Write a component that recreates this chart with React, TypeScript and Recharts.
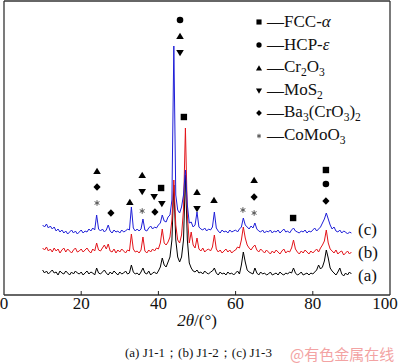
import React from 'react';
import { ComposedChart, Line, Scatter, XAxis, YAxis } from 'recharts';

// 2θ measurement grid (degrees), 0.5° step from 10° to 90°
const twoTheta: number[] = Array.from({ length: 161 }, (_, i) => 10 + i * 0.5);

// (a) J1-1 — black
const intensityA = [
  25, 22, 24, 21, 23, 25, 22, 23, 20, 24,
  22, 21, 24, 22, 20, 23, 21, 24, 22, 21,
  23, 20, 22, 24, 21, 23, 22, 20, 27, 22,
  21, 23, 25, 22, 20, 23, 21, 24, 22, 20,
  23, 21, 22, 24, 21, 22, 30, 23, 21, 22,
  20, 23, 27, 22, 21, 24, 20, 22, 23, 21,
  24, 28, 37, 30, 28, 33, 38, 55, 110, 55,
  38, 33, 38, 55, 120, 55, 32, 27, 24, 23,
  25, 22, 23, 21, 24, 22, 21, 23, 24, 27,
  22, 20, 23, 21, 22, 20, 23, 21, 22, 20,
  22, 24, 21, 30, 43, 33, 25, 23, 22, 21,
  27, 22, 20, 23, 21, 22, 20, 21, 23, 20,
  21, 22, 20, 23, 21, 20, 22, 21, 23, 22,
  27, 22, 20, 21, 23, 20, 21, 22, 20, 22,
  21, 23, 25, 30, 26, 28, 34, 45, 37, 27,
  24, 22, 20, 23, 27, 21, 19, 22, 20, 23,
  21,
];

// (b) J1-2 — red
const intensityB = [
  47, 45, 48, 44, 46, 43, 47, 44, 46, 42,
  45, 47, 43, 46, 44, 42, 45, 47, 43, 44,
  46, 43, 45, 47, 44, 42, 46, 44, 52, 45,
  44, 47, 50, 46, 51, 44, 43, 46, 42, 45,
  43, 46, 44, 42, 45, 44, 61, 46, 43, 44,
  42, 45, 58, 44, 42, 45, 43, 46, 44, 47,
  46, 52, 66, 52, 50, 53, 58, 75, 115, 70,
  55, 52, 60, 85, 167, 80, 52, 63, 50, 47,
  57, 46, 44, 47, 43, 45, 46, 44, 48, 60,
  46, 43, 45, 42, 44, 46, 43, 45, 42, 44,
  45, 48, 47, 55, 68, 57, 50, 47, 45, 48,
  50, 45, 43, 46, 44, 42, 45, 43, 41, 44,
  42, 45, 43, 41, 44, 46, 42, 44, 43, 47,
  55, 46, 43, 41, 44, 42, 45, 43, 41, 44,
  42, 44, 46, 43, 47, 50, 54, 65, 52, 46,
  44, 42, 45, 41, 43, 44, 40, 42, 44, 41,
  43,
];

// (c) J1-3 — blue
const intensityC = [
  70, 68, 71, 67, 69, 66, 68, 64, 66, 63,
  65, 62, 64, 61, 63, 65, 62, 64, 61, 63,
  65, 62, 64, 63, 66, 64, 67, 65, 80, 66,
  64, 66, 63, 65, 70, 64, 62, 65, 63, 64,
  62, 65, 63, 64, 66, 65, 88, 67, 64, 66,
  64, 66, 76, 65, 64, 67, 69, 66, 68, 67,
  70, 72, 80, 74, 73, 78, 80, 95, 249, 100,
  85, 82, 88, 100, 125, 90, 72, 73, 68, 70,
  83, 68, 66, 65, 67, 64, 66, 65, 68, 83,
  67, 64, 62, 65, 63, 64, 62, 65, 63, 64,
  65, 63, 66, 68, 77, 70, 68, 66, 69, 67,
  72, 66, 64, 63, 65, 62, 64, 63, 65, 62,
  64, 63, 65, 62, 64, 66, 63, 64, 62, 65,
  67, 64, 63, 62, 64, 63, 65, 62, 64, 63,
  65, 67, 64, 66, 68, 72, 76, 82, 76, 70,
  66, 68, 64, 63, 65, 62, 64, 63, 61, 63,
  62,
];

const xTicks = [0, 20, 40, 60, 80, 100];

// phase marker positions (2θ, marker height in intensity units)
const fccMarks = [
  { x: 46.6, y: 178 }, { x: 40.7, y: 107 }, { x: 74.9, y: 77 }, { x: 83.4, y: 125 },
];
const hcpMarks = [{ x: 45.6, y: 275 }, { x: 83.4, y: 111 }];
const cr2o3Marks = [
  { x: 45.6, y: 259 }, { x: 24.1, y: 124 }, { x: 32.6, y: 93 }, { x: 35.8, y: 120 },
  { x: 50.0, y: 103 }, { x: 54.4, y: 95 }, { x: 64.8, y: 115 },
];
const mos2Marks = [
  { x: 45.6, y: 242 }, { x: 35.8, y: 103 }, { x: 38.9, y: 98 }, { x: 40.9, y: 91 }, { x: 50.0, y: 86 },
];
const baCrMarks = [
  { x: 24.1, y: 108 }, { x: 27.7, y: 82 }, { x: 39.1, y: 83 }, { x: 64.8, y: 98 }, { x: 83.4, y: 94 },
];
const coMoMarks = [
  { x: 24.1, y: 92 }, { x: 35.8, y: 84 }, { x: 61.9, y: 85 }, { x: 64.8, y: 82 },
];

const phaseNames = ['FCC-α', 'HCP-ε', 'Cr2O3', 'MoS2', 'Ba3(CrO3)2', 'CoMoO3'];
const sampleLabels = ['(c)', '(b)', '(a)'];
const xTitle = ['2θ', '/(°)'];
const caption = '(a) J1-1；(b) J1-2；(c) J1-3';
const watermark = '@有色金属在线';

const rows = twoTheta.map((x, i) => ({ x, a: intensityA[i], b: intensityB[i], c: intensityC[i] }));

const SERIF = '"Liberation Serif", "Times New Roman", serif';
const FRAME = '#333';

type Kind = 'square' | 'circle' | 'up' | 'down' | 'diamond' | 'star';

const Mark = ({ kind, cx, cy, s = 1 }: { kind: Kind; cx: number; cy: number; s?: number }) => {
  if (kind === 'square') return <rect x={cx - 3.2 * s} y={cy - 3.2 * s} width={6.4 * s} height={6.4 * s} fill="#000" />;
  if (kind === 'circle') return <circle cx={cx} cy={cy} r={3.3 * s} fill="#000" />;
  if (kind === 'up')
    return <polygon points={`${cx - 3.8 * s},${cy + 3 * s} ${cx + 3.8 * s},${cy + 3 * s} ${cx},${cy - 3.3 * s}`} fill="#000" />;
  if (kind === 'down')
    return <polygon points={`${cx - 3.8 * s},${cy - 3 * s} ${cx + 3.8 * s},${cy - 3 * s} ${cx},${cy + 3.3 * s}`} fill="#000" />;
  if (kind === 'diamond')
    return <polygon points={`${cx},${cy - 3.8 * s} ${cx + 3.6 * s},${cy} ${cx},${cy + 3.8 * s} ${cx - 3.6 * s},${cy}`} fill="#000" />;
  const r = 2.8 * s;
  return (
    <g stroke="#555" strokeWidth={1}>
      <line x1={cx} y1={cy - r} x2={cx} y2={cy + r} />
      <line x1={cx - r * 0.87} y1={cy - r * 0.5} x2={cx + r * 0.87} y2={cy + r * 0.5} />
      <line x1={cx - r * 0.87} y1={cy + r * 0.5} x2={cx + r * 0.87} y2={cy - r * 0.5} />
    </g>
  );
};

const shapeOf = (kind: Kind) => (p: any) => <Mark kind={kind} cx={p.cx} cy={p.cy} />;

const AxisTick = (props: any) => {
  const { x, y, payload } = props;
  const v = payload.value;
  const tx = v === 100 ? x - 5 : x;
  return (
    <g>
      {v > 0 && v < 100 && <line x1={x} x2={x} y1={y - 4} y2={y} stroke="#222" strokeWidth={1} />}
      <text x={tx} y={y + 14} textAnchor="middle" fontSize={17} fontFamily={SERIF} fill="#111">
        {v}
      </text>
    </g>
  );
};

const renderFormula = (name: string) => {
  const parts: React.ReactNode[] = [];
  name.split('').forEach((ch, i) => {
    if (/[0-9]/.test(ch)) {
      parts.push(
        <span key={i} style={{ fontSize: '0.68em', position: 'relative', top: '0.35em' }}>
          {ch}
        </span>
      );
    } else if (/[αε]/.test(ch)) {
      parts.push(
        <i key={i} style={{ fontFamily: SERIF }}>
          {ch}
        </i>
      );
    } else parts.push(<span key={i}>{ch}</span>);
  });
  return parts;
};

const legendKinds: Kind[] = ['square', 'circle', 'up', 'down', 'diamond', 'star'];
const legendYs = [22, 45, 68, 91, 113, 136];
const labelYs = [230, 253, 276];

export default function App() {
  return (
    <div style={{ position: 'absolute', left: 0, top: 0, width: 400, height: 363, background: '#fff', overflow: 'hidden' }}>
      <ComposedChart width={400} height={363} data={rows} margin={{ top: 0, right: 9, bottom: 8, left: 0 }}>
        <XAxis
          xAxisId="main"
          dataKey="x"
          type="number"
          domain={[0, 100]}
          ticks={xTicks}
          height={60}
          tickSize={0}
          tickMargin={0}
          tickLine={false}
          axisLine={{ stroke: FRAME, strokeWidth: 1.3 }}
          tick={<AxisTick />}
          interval={0}
        />
        <XAxis
          xAxisId="top"
          orientation="top"
          dataKey="x"
          type="number"
          domain={[0, 100]}
          height={1}
          tick={false}
          tickLine={false}
          axisLine={{ stroke: FRAME, strokeWidth: 1.3 }}
        />
        <YAxis
          yAxisId="main"
          type="number"
          domain={[0, 294]}
          width={4}
          tick={false}
          tickLine={false}
          axisLine={{ stroke: FRAME, strokeWidth: 1.3 }}
          allowDataOverflow
        />
        <YAxis
          yAxisId="right"
          orientation="right"
          type="number"
          domain={[0, 294]}
          width={1}
          tick={false}
          tickLine={false}
          axisLine={{ stroke: FRAME, strokeWidth: 1.3 }}
        />
        <Line xAxisId="main" yAxisId="main" dataKey="a" stroke="#000000" strokeWidth={1} dot={false} isAnimationActive={false} type="linear" />
        <Line xAxisId="main" yAxisId="main" dataKey="b" stroke="#e3141a" strokeWidth={1} dot={false} isAnimationActive={false} type="linear" />
        <Line xAxisId="main" yAxisId="main" dataKey="c" stroke="#1f1fd8" strokeWidth={1} dot={false} isAnimationActive={false} type="linear" />
        <Scatter xAxisId="main" yAxisId="main" data={fccMarks} dataKey="y" shape={shapeOf('square')} isAnimationActive={false} />
        <Scatter xAxisId="main" yAxisId="main" data={hcpMarks} dataKey="y" shape={shapeOf('circle')} isAnimationActive={false} />
        <Scatter xAxisId="main" yAxisId="main" data={cr2o3Marks} dataKey="y" shape={shapeOf('up')} isAnimationActive={false} />
        <Scatter xAxisId="main" yAxisId="main" data={mos2Marks} dataKey="y" shape={shapeOf('down')} isAnimationActive={false} />
        <Scatter xAxisId="main" yAxisId="main" data={baCrMarks} dataKey="y" shape={shapeOf('diamond')} isAnimationActive={false} />
        <Scatter xAxisId="main" yAxisId="main" data={coMoMarks} dataKey="y" shape={shapeOf('star')} isAnimationActive={false} />
      </ComposedChart>

      {phaseNames.map((name, i) => (
        <div
          key={name}
          style={{
            position: 'absolute',
            left: 253,
            top: legendYs[i] - 11,
            height: 22,
            lineHeight: '22px',
            fontFamily: SERIF,
            fontSize: 17,
            color: '#111',
            whiteSpace: 'nowrap',
            display: 'flex',
            alignItems: 'center',
          }}
        >
          <svg width={12} height={12} style={{ marginRight: 2 }}>
            <Mark kind={legendKinds[i]} cx={6} cy={6} s={0.8} />
          </svg>
          <span>—</span>
          <span>{renderFormula(name)}</span>
        </div>
      ))}

      {sampleLabels.map((t, i) => (
        <div
          key={t}
          style={{
            position: 'absolute',
            left: 358,
            top: labelYs[i] - 11,
            lineHeight: '22px',
            fontFamily: SERIF,
            fontSize: 17,
            color: '#111',
          }}
        >
          {t}
        </div>
      ))}

      <div
        style={{
          position: 'absolute',
          left: 0,
          width: 394,
          top: 310,
          textAlign: 'center',
          lineHeight: '22px',
          fontFamily: SERIF,
          fontSize: 17,
          color: '#111',
        }}
      >
        <i>{xTitle[0]}</i>
        <span>{xTitle[1]}</span>
      </div>

      <div
        style={{
          position: 'absolute',
          left: 125,
          top: 344,
          lineHeight: '18px',
          fontFamily: SERIF,
          fontSize: 13,
          color: '#111',
          whiteSpace: 'nowrap',
        }}
      >
        {caption}
      </div>

      <div
        style={{
          position: 'absolute',
          left: 290,
          top: 344,
          lineHeight: '20px',
          fontFamily: '"Noto Sans CJK SC", sans-serif',
          fontSize: 15,
          color: '#f3a3a3',
          whiteSpace: 'nowrap',
        }}
      >
        {watermark}
      </div>
    </div>
  );
}
